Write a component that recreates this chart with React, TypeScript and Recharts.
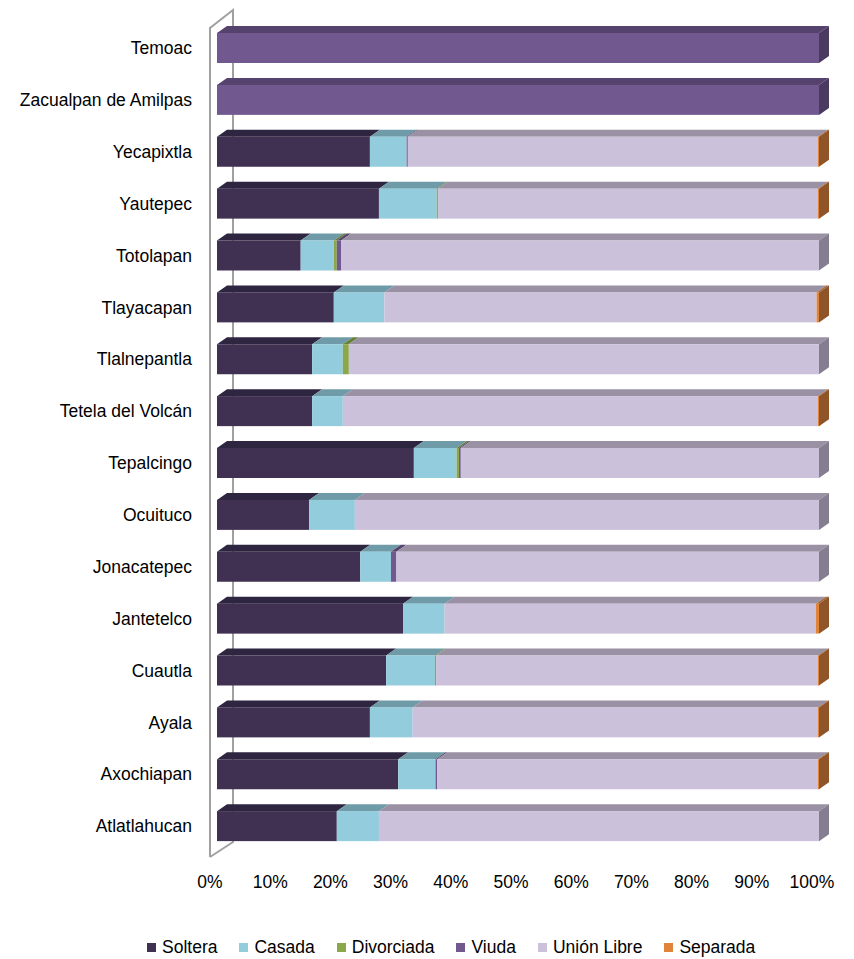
import React from "react";
import { BarChart, Bar, XAxis, YAxis, Legend } from "recharts";

// municipalities, top to bottom
const municipios = [
  "Temoac",
  "Zacualpan de Amilpas",
  "Yecapixtla",
  "Yautepec",
  "Totolapan",
  "Tlayacapan",
  "Tlalnepantla",
  "Tetela del Volcán ",
  "Tepalcingo",
  "Ocuituco",
  "Jonacatepec",
  "Jantetelco",
  "Cuautla",
  "Ayala",
  "Axochiapan",
  "Atlatlahucan",
];

const soltera = [0, 0, 25.4, 26.9, 13.9, 19.4, 15.8, 15.8, 32.7, 15.3, 23.8, 30.9, 28.1, 25.4, 30.1, 19.9];
const casada = [0, 0, 6.1, 9.6, 5.5, 8.4, 5.1, 5.1, 7.1, 7.6, 5.1, 6.9, 8.1, 7.1, 6.2, 7.0];
const divorciada = [0, 0, 0, 0.2, 0.5, 0, 1.0, 0, 0.4, 0, 0, 0, 0.2, 0, 0, 0];
const viuda = [100, 100, 0.2, 0, 0.7, 0, 0, 0, 0.3, 0, 0.9, 0, 0, 0, 0.3, 0];
const unionLibre = [0, 0, 68.1, 63.1, 79.4, 71.8, 78.1, 78.9, 59.5, 77.1, 70.2, 61.7, 63.4, 67.3, 63.2, 73.1];
const separada = [0, 0, 0.2, 0.2, 0, 0.4, 0, 0.2, 0, 0, 0, 0.5, 0.2, 0.2, 0.2, 0];

const xTicks = [0, 10, 20, 30, 40, 50, 60, 70, 80, 90, 100];

const series = [
  { key: "Soltera", values: soltera, front: "#403152", top: "#2e2540", side: "#2a2139" },
  { key: "Casada", values: casada, front: "#93cddd", top: "#6e9ba7", side: "#5f8793" },
  { key: "Divorciada", values: divorciada, front: "#8aa84a", top: "#67813a", side: "#5b7233" },
  { key: "Viuda", values: viuda, front: "#71598f", top: "#55426d", side: "#4a3a60" },
  { key: "Unión Libre", values: unionLibre, front: "#ccc1da", top: "#9a91a5", side: "#857d90" },
  { key: "Separada", values: separada, front: "#e0843c", top: "#a8632d", side: "#8f5428" },
];
const keys = series.map((s) => s.key);

const data = municipios.map((name, i) => {
  const row: Record<string, any> = { name };
  series.forEach((s) => (row[s.key] = s.values[i]));
  return row;
});

const W = 854;
const H = 959;
const M = { top: 22, right: 35, left: 0, bottom: 0 };
const Y_W = 217;
const X_H = 83;
const LEG_H = 24;
const DX = 10;
const DY = 7;
const FONT = "'Liberation Sans', Arial, sans-serif";
const FS = 17.5;

function Bar3D(props: any) {
  const { x, y, width, height, payload, dataKey } = props;
  if (!width || width <= 0) return null;
  const s = series.find((q) => q.key === dataKey)!;
  const idx = keys.indexOf(dataKey);
  const isLast = keys.slice(idx + 1).every((k) => !payload[k]);
  return (
    <g>
      <polygon
        points={`${x},${y} ${x + DX},${y - DY} ${x + width + DX},${y - DY} ${x + width},${y}`}
        fill={s.top}
      />
      <rect x={x} y={y} width={width} height={height} fill={s.front} />
      {isLast && (
        <polygon
          points={`${x + width},${y} ${x + width + DX},${y - DY} ${x + width + DX},${y + height - DY} ${x + width},${y + height}`}
          fill={s.side}
        />
      )}
    </g>
  );
}

const XTick = (props: any) => {
  const { x, y, payload } = props;
  return (
    <text x={x - 7} y={y + 36} textAnchor="middle" fill="#000" fontSize={FS} fontFamily={FONT}>
      {payload.value}%
    </text>
  );
};

const renderLegend = () => (
  <div style={{ display: "flex", paddingLeft: 147, fontFamily: FONT, fontSize: FS, color: "#000", lineHeight: "24px" }}>
    {series.map((s) => (
      <div key={s.key} style={{ display: "flex", alignItems: "center", marginRight: 22 }}>
        <span style={{ display: "inline-block", width: 9, height: 9, background: s.front, marginRight: 6 }} />
        <span>{s.key}</span>
      </div>
    ))}
  </div>
);

// back wall of the 3D plot
function Wall() {
  const px = M.left + Y_W;
  const py = M.top;
  const pb = H - M.bottom - LEG_H - X_H;
  const fx = px - 7;
  const bx = px + 16;
  return (
    <svg width={W} height={H} style={{ position: "absolute", left: 0, top: 0 }}>
      <polyline
        points={`${fx},${pb + 5} ${fx},${py + 6} ${bx},${py - 12} ${bx},${pb - 10} ${fx},${pb + 5}`}
        fill="none"
        stroke="#a0a0a0"
        strokeWidth={2}
      />
    </svg>
  );
}

export default function App() {
  return (
    <div style={{ position: "absolute", left: 0, top: 0, width: W, height: H, background: "#fff" }}>
      <Wall />
      <div style={{ position: "absolute", left: 0, top: 0 }}>
        <BarChart width={W} height={H} data={data} layout="vertical" margin={M} barSize={30}>
          <XAxis
            type="number"
            domain={[0, 100]}
            ticks={xTicks}
            interval={0}
            axisLine={false}
            tickLine={false}
            tickSize={0}
            tickMargin={0}
            height={X_H}
            tick={<XTick />}
          />
          <YAxis
            type="category"
            dataKey="name"
            width={Y_W}
            axisLine={false}
            tickLine={false}
            tickSize={0}
            tickMargin={25}
            interval={0}
            tick={{ fill: "#000", fontSize: FS, fontFamily: FONT }}
          />
          {series.map((s) => (
            <Bar
              key={s.key}
              dataKey={s.key}
              stackId="a"
              fill={s.front}
              shape={<Bar3D />}
              isAnimationActive={false}
            />
          ))}
          <Legend
            verticalAlign="bottom"
            height={LEG_H}
            content={renderLegend}
            wrapperStyle={{ left: 0, width: W }}
          />
        </BarChart>
      </div>
    </div>
  );
}
